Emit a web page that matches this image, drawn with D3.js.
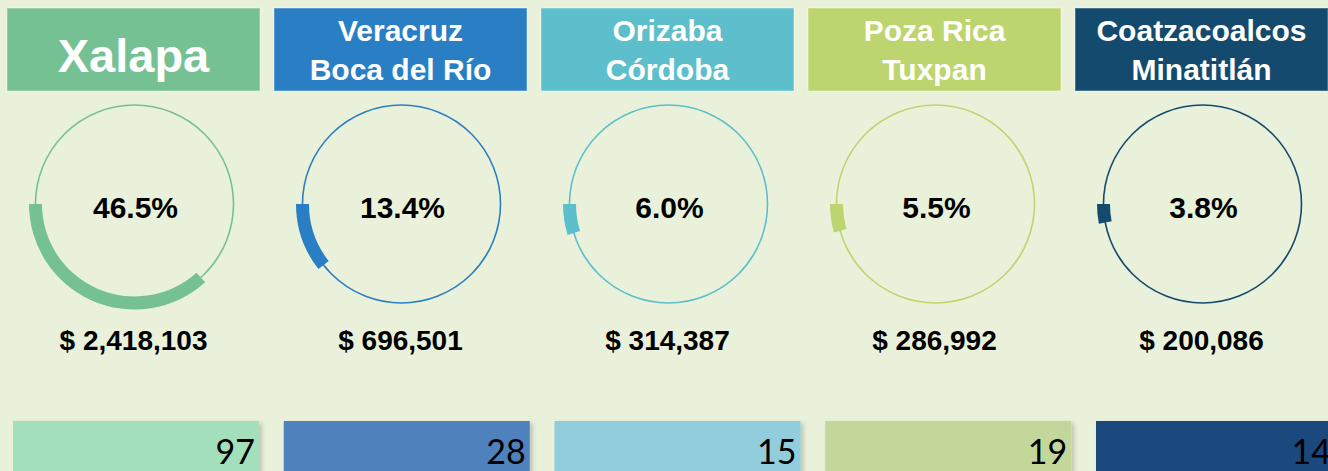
<html>
<head>
<meta charset="utf-8">
<title>Regiones</title>
<script src="https://cdn.jsdelivr.net/npm/d3@7"></script>
<style>
    body {
        margin: 0;
        background-color: #E9F1DA;
    }
    svg {
        display: block;
    }
    .head {
        font-family: "Liberation Sans", Arial, sans-serif;
        font-weight: bold;
        fill: #fff;
    }
    .pct, .amount {
        font-family: "Liberation Sans", Arial, sans-serif;
        font-weight: bold;
        fill: #000;
    }
    .count {
        font-family: Lato, "Open Sans", sans-serif;
        font-weight: 400;
        fill: #000;
    }
</style>
</head>
<body>
<svg id="chart"></svg>
<script>
    const WIDTH = 1328
    const HEIGHT = 471

    // data
    const regions = ["Xalapa", "Veracruz|Boca del Río", "Orizaba|Córdoba", "Poza Rica|Tuxpan", "Coatzacoalcos|Minatitlán"]
    const shares = [46.5, 13.4, 6.0, 5.5, 3.8]
    const amounts = [2418103, 696501, 314387, 286992, 200086]
    const counts = [97, 28, 15, 19, 14]

    const mainColors = ["#76C193", "#2A7FC4", "#5CBFCB", "#BDD56F", "#134A6E"]
    const boxColors = ["#A3DFBA", "#4F81BD", "#92CDDE", "#C4D79B", "#1F497D"]

    const R = 99
    const ARC_W = 13

    let svg = d3.select("#chart")
        .attr("width", WIDTH)
        .attr("height", HEIGHT)

    let defs = svg.append("defs")
    let shadow = defs.append("filter").attr("id", "shadow")
        .attr("x", "-5%").attr("y", "-10%").attr("width", "115%").attr("height", "130%")
    shadow.append("feDropShadow")
        .attr("dx", 3).attr("dy", 2).attr("stdDeviation", 2)
        .attr("flood-color", "#000").attr("flood-opacity", 0.18)

    const idx = d3.range(regions.length)

    // header boxes
    let headX = d3.scaleLinear().domain([0, 4]).range([7, 1075])
    const HEAD_W = 253

    // bottom boxes
    let boxX = d3.scaleLinear().domain([0, 4]).range([13, 1096])
    const BOX_W = 246

    // share -> arc angle (radians)
    let angle = d3.scaleLinear().domain([0, 100]).range([0, 284 * Math.PI / 180])

    let fmtAmount = d3.format(",")
    let fmtPct = d3.format(".1f")

    let panels = svg.selectAll("g.panel").data(idx)
        .enter().append("g")
        .attr("class", "panel")

    panels.append("rect")
        .attr("x", i => headX(i))
        .attr("y", 8)
        .attr("width", HEAD_W)
        .attr("height", 83)
        .attr("fill", i => mainColors[i])
        .attr("stroke", "#fff")
        .attr("stroke-opacity", 0.3)
        .attr("stroke-width", 1.5)

    panels.each(function (i) {
        let g = d3.select(this)
        let lines = regions[i].split("|")
        let cx = headX(i) + HEAD_W / 2
        if (lines.length == 1) {
            g.append("text").attr("class", "head")
                .attr("x", cx).attr("y", 72)
                .attr("text-anchor", "middle")
                .style("font-size", "47px")
                .text(lines[0])
        } else {
            lines.forEach((l, k) => {
                g.append("text").attr("class", "head")
                    .attr("x", cx).attr("y", 41 + k * 39)
                    .attr("text-anchor", "middle")
                    .style("font-size", "30px")
                    .text(l)
            })
        }

        let ring = g.append("g")
            .attr("transform", `translate(${cx + 1}, 204)`)
        ring.append("circle")
            .attr("r", R)
            .attr("fill", "none")
            .attr("stroke", mainColors[i])
            .attr("stroke-width", 1.6)
        let arc = d3.arc()
            .innerRadius(R - ARC_W / 2)
            .outerRadius(R + ARC_W / 2)
            .startAngle(1.5 * Math.PI - angle(shares[i]))
            .endAngle(1.5 * Math.PI)
        ring.append("path")
            .attr("d", arc())
            .attr("fill", mainColors[i])

        g.append("text").attr("class", "pct")
            .attr("x", cx + 2).attr("y", 218)
            .attr("text-anchor", "middle")
            .style("font-size", "30px")
            .text(fmtPct(shares[i]) + "%")

        g.append("text").attr("class", "amount")
            .attr("x", cx).attr("y", 350)
            .attr("text-anchor", "middle")
            .style("font-size", "28px")
            .text("$ " + fmtAmount(amounts[i]))

        g.append("rect")
            .attr("x", boxX(i))
            .attr("y", 421)
            .attr("width", BOX_W)
            .attr("height", 60)
            .attr("fill", boxColors[i])
            .attr("filter", "url(#shadow)")

        // last box runs past the page edge, keep its number mostly in view
        g.append("text").attr("class", "count")
            .attr("x", Math.min(boxX(i) + BOX_W - 4, WIDTH + 3)).attr("y", 464)
            .attr("text-anchor", "end")
            .style("font-size", "34px")
            .text(counts[i])
    })
</script>
</body>
</html>
